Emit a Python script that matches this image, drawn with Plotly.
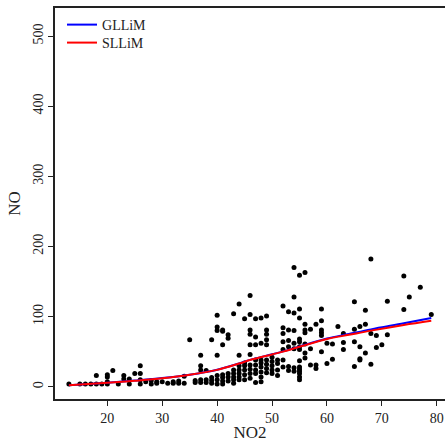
import plotly.graph_objects as go

# Scatter data: NO2 (x) and NO (y), grouped per integer NO2 value
groups = {
    13: [4], 15: [4], 16: [4], 17: [4], 18: [16, 4], 19: [4],
    20: [17, 14, 7, 4], 21: [23], 22: [4], 23: [16, 11], 24: [11, 4],
    25: [19], 26: [30, 19, 10, 4], 27: [7], 28: [9, 4], 29: [7, 5],
    30: [7], 31: [5], 32: [7, 5], 33: [8, 5], 34: [15, 5], 35: [67],
    36: [9, 6], 37: [45, 30, 24, 10, 6], 38: [23, 10, 6], 39: [67, 13, 9, 5],
    40: [102, 85, 80, 45, 16, 10, 4], 41: [81, 79, 60, 17, 13, 8, 4],
    42: [74, 69, 19, 14, 8], 43: [104, 24, 19, 14, 10, 5],
    44: [118, 45, 30, 24, 19, 14, 10], 45: [97, 34, 30, 24, 17, 10],
    46: [130, 103, 81, 75, 60, 46, 31, 25, 19, 12],
    47: [97, 71, 60, 38, 31, 24, 19, 6],
    48: [98, 62, 38, 34, 28, 21, 14, 7],
    49: [101, 81, 75, 67, 60, 38, 32, 26, 20],
    50: [42, 36, 30, 24, 19], 51: [38, 33, 24, 16],
    52: [115, 84, 76, 64, 53, 38, 28],
    53: [107, 81, 66, 57, 29, 23],
    54: [170, 128, 105, 80, 62, 54, 27, 22],
    55: [159, 111, 98, 68, 64, 57, 53, 37, 28, 25, 22, 19, 14, 10],
    56: [163, 89, 81, 77, 61, 48, 41], 57: [82, 54, 31], 58: [89, 31, 26],
    59: [111, 94, 81, 77, 73, 50], 60: [62, 33], 61: [61, 39], 62: [86],
    63: [76, 63, 53], 65: [121, 82, 64, 29], 66: [86, 57, 40, 38],
    67: [109, 89, 48], 68: [182, 76, 32], 69: [73, 56], 70: [60],
    71: [122, 74], 74: [158, 110], 75: [128], 77: [142], 79: [103],
}
no2 = [x for x, ys in groups.items() for _ in ys]
no = [y for ys in groups.values() for y in ys]

# Fitted curves
curve_x = [13, 20, 25, 30, 35, 40, 44, 46, 50, 52, 55, 60, 64, 68, 74, 79]
gllim_y = [2.2, 5.8, 8.8, 12.3, 17.2, 24.3, 33.2, 38.3, 46.3, 50.4, 57.4, 68.8, 75.3, 81.8, 90.5, 98]
sllim_y = [2, 5.5, 8.5, 12, 17, 24, 33, 38, 46, 50, 57, 68, 74, 80, 88, 94]

x_ticks = [20, 30, 40, 50, 60, 70, 80]
y_ticks = [0, 100, 200, 300, 400, 500]

FONT = "Liberation Serif"

fig = go.Figure()
fig.add_trace(go.Scatter(x=no2, y=no, mode="markers",
                         marker=dict(color="black", size=5),
                         showlegend=False))
fig.add_trace(go.Scatter(x=curve_x, y=gllim_y, mode="lines", name="GLLiM",
                         legend="legend",
                         line=dict(color="#0000ff", width=2, shape="spline")))
fig.add_trace(go.Scatter(x=curve_x, y=sllim_y, mode="lines", name="SLLiM",
                         legend="legend2",
                         line=dict(color="#ff0000", width=2, shape="spline")))

leg_common = dict(x=0.018, xanchor="left", yanchor="middle",
                  bgcolor="rgba(0,0,0,0)", font=dict(size=14))
fig.update_layout(
    width=445, height=442,
    margin=dict(l=55, r=0, t=8, b=43),
    paper_bgcolor="white", plot_bgcolor="white",
    font=dict(family=FONT, size=14, color="#222222"),
    legend=dict(y=0.9565, **leg_common),
    legend2=dict(y=0.9105, **leg_common),
)
fig.update_xaxes(range=[10.47, 81.5], tickvals=x_ticks, showgrid=False,
                 zeroline=False, showline=True, linecolor="#222222",
                 linewidth=1.5, mirror=True, ticks="outside", ticklen=5,
                 tickcolor="#222222", ticklabeloverflow="allow",
                 title=dict(text="NO2", standoff=4))
fig.update_yaxes(range=[-17.5, 540], tickvals=y_ticks, showgrid=False,
                 zeroline=False, showline=True, linecolor="#222222",
                 linewidth=1.5, ticks="outside", ticklen=5,
                 tickcolor="#222222", tickangle=-90,
                 title=dict(text="NO", standoff=6))

fig.write_html("out.html",
               config={"displayModeBar": False},
               post_script="document.body.style.margin='0';"
                           "document.body.style.overflow='hidden';")
